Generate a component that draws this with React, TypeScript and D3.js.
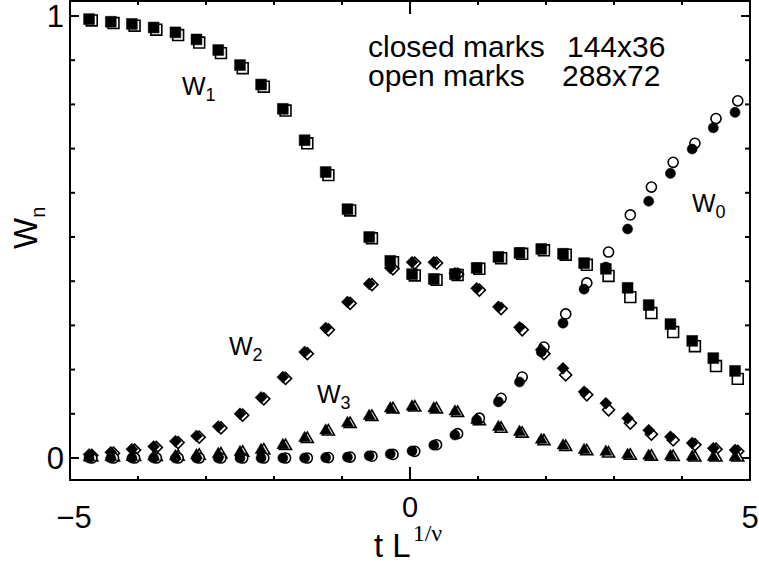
import React from 'react';
import * as d3 from 'd3';

// t L^{1/nu} positions (closed: 144x36, open: 288x72)
const tLClosed = [-4.72, -4.40, -4.09, -3.77, -3.45, -3.14, -2.82, -2.50, -2.19, -1.87, -1.55, -1.24, -0.92, -0.60, -0.29, 0.03, 0.35, 0.66, 0.98, 1.30, 1.61, 1.93, 2.25, 2.56, 2.88, 3.20, 3.51, 3.83, 4.15, 4.46, 4.78];
const tLOpen = [-4.68, -4.36, -4.05, -3.73, -3.41, -3.10, -2.78, -2.46, -2.15, -1.83, -1.51, -1.20, -0.88, -0.56, -0.25, 0.07, 0.39, 0.70, 1.02, 1.34, 1.65, 1.97, 2.29, 2.60, 2.92, 3.24, 3.55, 3.87, 4.19, 4.50, 4.82];

const w0Closed = [0, 0, 0, 0, 0, 0, 0, 0, 0, 0, 0, 0.001, 0.002, 0.005, 0.009, 0.016, 0.029, 0.052, 0.086, 0.127, 0.172, 0.240, 0.305, 0.382, 0.432, 0.518, 0.581, 0.644, 0.699, 0.747, 0.782];
const w0Open = [0, 0, 0, 0, 0, 0, 0, 0, 0, 0, 0, 0.001, 0.002, 0.004, 0.008, 0.015, 0.030, 0.055, 0.090, 0.135, 0.183, 0.251, 0.326, 0.396, 0.466, 0.550, 0.613, 0.669, 0.712, 0.768, 0.808];

const w1Closed = [0.993, 0.987, 0.982, 0.974, 0.963, 0.947, 0.923, 0.889, 0.845, 0.790, 0.719, 0.647, 0.563, 0.500, 0.446, 0.416, 0.405, 0.416, 0.430, 0.455, 0.464, 0.473, 0.462, 0.441, 0.428, 0.385, 0.346, 0.303, 0.265, 0.226, 0.197];
const w1Open = [0.990, 0.984, 0.978, 0.969, 0.957, 0.940, 0.916, 0.882, 0.840, 0.786, 0.712, 0.640, 0.560, 0.497, 0.443, 0.413, 0.403, 0.414, 0.428, 0.452, 0.462, 0.470, 0.460, 0.437, 0.412, 0.364, 0.328, 0.285, 0.253, 0.208, 0.179];

const w2Closed = [0.008, 0.013, 0.020, 0.026, 0.038, 0.050, 0.071, 0.100, 0.137, 0.183, 0.240, 0.294, 0.353, 0.394, 0.430, 0.443, 0.443, 0.418, 0.384, 0.342, 0.296, 0.245, 0.203, 0.150, 0.124, 0.090, 0.063, 0.048, 0.034, 0.022, 0.018];
const w2Open = [0.006, 0.011, 0.018, 0.024, 0.035, 0.047, 0.068, 0.097, 0.134, 0.180, 0.236, 0.290, 0.350, 0.392, 0.428, 0.441, 0.441, 0.416, 0.380, 0.338, 0.290, 0.236, 0.188, 0.143, 0.109, 0.079, 0.054, 0.041, 0.030, 0.020, 0.015];

const w3Closed = [0.001, 0.002, 0.002, 0.003, 0.004, 0.006, 0.009, 0.013, 0.018, 0.029, 0.045, 0.062, 0.079, 0.095, 0.112, 0.116, 0.112, 0.105, 0.086, 0.070, 0.059, 0.041, 0.028, 0.018, 0.014, 0.007, 0.005, 0.004, 0.003, 0.002, 0.002];
const w3Open = [0.001, 0.001, 0.002, 0.002, 0.003, 0.005, 0.008, 0.012, 0.017, 0.027, 0.043, 0.060, 0.077, 0.093, 0.110, 0.114, 0.110, 0.102, 0.083, 0.066, 0.055, 0.038, 0.025, 0.015, 0.010, 0.005, 0.003, 0.002, 0.001, 0.001, 0.001];

const xTicks = [-5, -4, -3, -2, -1, 0, 1, 2, 3, 4, 5];
const yTicks = [0, 0.1, 0.2, 0.3, 0.4, 0.5, 0.6, 0.7, 0.8, 0.9, 1];

const series = [
  { name: 'W1', shape: 'square', closed: w1Closed, open: w1Open },
  { name: 'W2', shape: 'diamond', closed: w2Closed, open: w2Open },
  { name: 'W3', shape: 'triangle', closed: w3Closed, open: w3Open },
  { name: 'W0', shape: 'circle', closed: w0Closed, open: w0Open },
];

const W = 759;
const H = 567;
const left = 70, right = 750, top = 1, bottom = 480;

const x = d3.scaleLinear().domain([-5, 5]).range([left, right]);
const y = d3.scaleLinear().domain([0, 1]).range([458, 16]);

const symbolFor = (shape: string) => {
  if (shape === 'square') return d3.symbol(d3.symbolSquare, 118)();
  if (shape === 'diamond') return d3.symbol(d3.symbolSquare, 72)();
  if (shape === 'triangle') return d3.symbol(d3.symbolTriangle, 62)();
  return d3.symbol(d3.symbolCircle, 80)();
};

const sans = '"Liberation Sans", Arial, sans-serif';
const serif = '"Liberation Serif", "Times New Roman", serif';

const Marks = ({ open }: { open: boolean }) => (
  <g>
    {series.map((s) => {
      const xs = open ? tLOpen : tLClosed;
      const vals = open ? s.open : s.closed;
      const d = symbolFor(s.shape) as string;
      const rot = s.shape === 'diamond' ? ' rotate(45)' : '';
      return vals.map((v, i) => (
        <path
          key={s.name + (open ? 'o' : 'c') + i}
          d={d}
          transform={`translate(${x(xs[i])},${y(v)})${rot}`}
          fill={open ? 'white' : 'black'}
          stroke="black"
          strokeWidth={open ? 1.6 : 0.5}
        />
      ));
    })}
  </g>
);

export default function App() {
  return (
    <svg width={W} height={H} style={{ position: 'absolute', left: 0, top: 0, background: 'white' }} fontFamily={sans}>
      <rect x={0} y={0} width={W} height={H} fill="white" />
      {/* ticks */}
      {xTicks.map((t) => {
        const len = t === 0 ? 13 : 4;
        return (
          <g key={'xt' + t} stroke="black" strokeWidth={2}>
            <line x1={x(t)} x2={x(t)} y1={bottom} y2={bottom - len} />
            <line x1={x(t)} x2={x(t)} y1={top} y2={top + len} />
          </g>
        );
      })}
      {yTicks.map((t) => {
        const len = t === 0 || t === 1 ? 9 : 5;
        return (
          <g key={'yt' + t} stroke="black" strokeWidth={2}>
            <line x1={left} x2={left + len} y1={y(t)} y2={y(t)} />
            <line x1={right} x2={right - len} y1={y(t)} y2={y(t)} />
          </g>
        );
      })}
      <rect x={left} y={top} width={right - left} height={bottom - top} fill="none" stroke="black" strokeWidth={2} />

      <Marks open={true} />
      <Marks open={false} />

      {/* tick labels */}
      <text x={x(-5) + 4} y={528} fontSize={31} textAnchor="middle">−5</text>
      <text x={x(0)} y={517} fontSize={29} textAnchor="middle">0</text>
      <text x={x(5)} y={528} fontSize={31} textAnchor="middle">5</text>
      <text x={64} y={y(1) + 11} fontSize={31} textAnchor="end">1</text>
      <text x={64} y={y(0) + 11} fontSize={31} textAnchor="end">0</text>

      {/* axis titles */}
      <text transform="translate(37,249) rotate(-90)" fontSize={33}>
        W<tspan fontSize={20} dy={8}>n</tspan>
      </text>
      <text x={374} y={557} fontSize={33}>
        t L<tspan fontFamily={serif} fontSize={24} dx={2} dy={-16}>1/ν</tspan>
      </text>

      {/* annotation */}
      <text x={368} y={57} fontSize={30}>closed marks</text>
      <text x={567} y={57} fontSize={30}>144x36</text>
      <text x={368} y={86} fontSize={30}>open marks</text>
      <text x={562} y={86} fontSize={30}>288x72</text>

      {/* curve labels */}
      <text x={182} y={95} fontSize={25}>W<tspan fontSize={18} dy={6}>1</tspan></text>
      <text x={692} y={212} fontSize={25}>W<tspan fontSize={18} dy={6}>0</tspan></text>
      <text x={229} y={355} fontSize={25}>W<tspan fontSize={18} dy={6}>2</tspan></text>
      <text x={317} y={403} fontSize={25}>W<tspan fontSize={18} dy={6}>3</tspan></text>
    </svg>
  );
}
